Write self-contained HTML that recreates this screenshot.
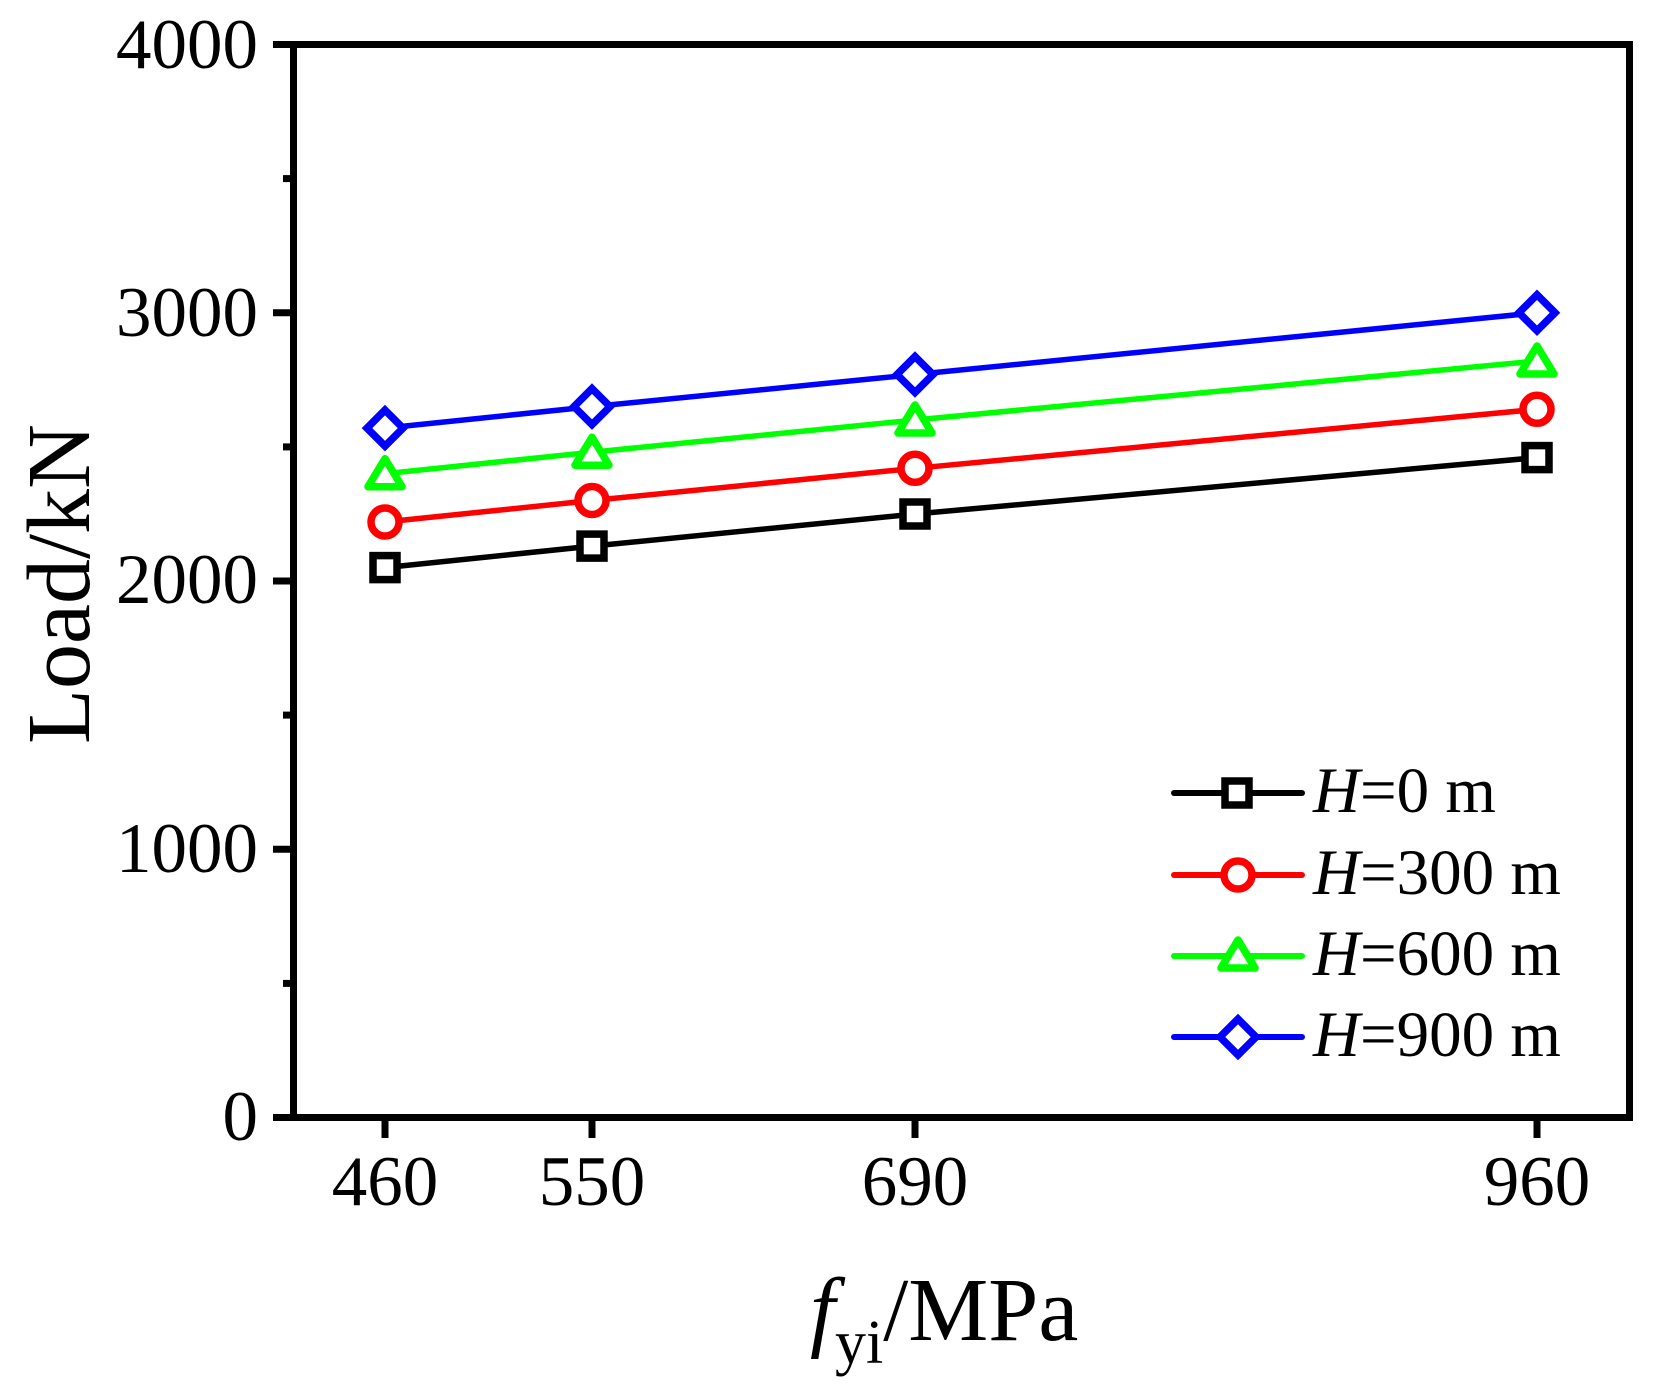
<!DOCTYPE html>
<html><head><meta charset="utf-8"><style>html,body{margin:0;padding:0;background:#fff}svg{display:block}</style></head>
<body>
<svg width="1659" height="1393" viewBox="0 0 1659 1393" xmlns="http://www.w3.org/2000/svg" font-family="'Liberation Serif', serif">
<rect width="1659" height="1393" fill="#fff"/>
<g stroke="#000" stroke-width="7" fill="none">
<rect x="293.5" y="44.5" width="1336" height="1073"/>
<line x1="273" y1="44.5" x2="293" y2="44.5"/>
<line x1="273" y1="312.75" x2="293" y2="312.75"/>
<line x1="273" y1="581" x2="293" y2="581"/>
<line x1="273" y1="849.25" x2="293" y2="849.25"/>
<line x1="273" y1="1117.5" x2="293" y2="1117.5"/>
<line x1="283" y1="178.6" x2="293" y2="178.6"/>
<line x1="283" y1="446.9" x2="293" y2="446.9"/>
<line x1="283" y1="715.1" x2="293" y2="715.1"/>
<line x1="283" y1="983.4" x2="293" y2="983.4"/>
<line x1="385" y1="1118" x2="385" y2="1138"/>
<line x1="592" y1="1118" x2="592" y2="1138"/>
<line x1="915" y1="1118" x2="915" y2="1138"/>
<line x1="1537" y1="1118" x2="1537" y2="1138"/>
</g>
<g font-size="71" text-anchor="end" fill="#000">
<text x="258" y="68">4000</text>
<text x="258" y="336">3000</text>
<text x="258" y="603">2000</text>
<text x="258" y="872">1000</text>
<text x="258" y="1140">0</text>
</g>
<g font-size="71" text-anchor="middle" fill="#000">
<text x="385" y="1205">460</text>
<text x="592" y="1205">550</text>
<text x="915" y="1205">690</text>
<text x="1537" y="1205">960</text>
</g>
<text transform="translate(89,584) rotate(-90)" font-size="90" text-anchor="middle" fill="#000">Load/kN</text>
<text x="810" y="1340" font-size="90" fill="#000"><tspan font-style="italic">f</tspan><tspan font-size="62" dy="23">yi</tspan><tspan dy="-23">/MPa</tspan></text>
<g fill="none" stroke-width="5.5">
<polyline stroke="#000" points="385,567.6 592,546.1 915,514 1537,457.6"/>
<polyline stroke="#f00" points="385,522 592,500.5 915,468.3 1537,409.3"/>
<polyline stroke="#0f0" points="385,473.7 592,452.2 915,420 1537,361"/>
<polyline stroke="#00f" points="385,428.1 592,406.6 915,374.5 1537,312.75"/>
</g>
<g fill="#fff" stroke-width="7.5">
<g stroke="#000">
<rect x="373" y="555.6" width="24" height="24"/><rect x="580" y="534.1" width="24" height="24"/><rect x="903" y="502" width="24" height="24"/><rect x="1525" y="445.6" width="24" height="24"/>
</g>
<g stroke="#f00">
<circle cx="385" cy="522" r="14"/><circle cx="592" cy="500.5" r="14"/><circle cx="915" cy="468.3" r="14"/><circle cx="1537" cy="409.3" r="14"/>
</g>
<g stroke="#0f0" stroke-linejoin="round">
<polygon points="385,458.7 402,486.7 368,486.7"/><polygon points="592,437.2 609,465.2 575,465.2"/><polygon points="915,405 932,433 898,433"/><polygon points="1537,346 1554,374 1520,374"/>
</g>
<g stroke="#00f">
<polygon points="385,410.1 403,428.1 385,446.1 367,428.1"/><polygon points="592,388.6 610,406.6 592,424.6 574,406.6"/><polygon points="915,356.5 933,374.5 915,392.5 897,374.5"/><polygon points="1537,294.75 1555,312.75 1537,330.75 1519,312.75"/>
</g>
</g>
<g stroke-width="6" stroke-linecap="round">
<line x1="1174" y1="793" x2="1302" y2="793" stroke="#000"/>
<line x1="1174" y1="875" x2="1302" y2="875" stroke="#f00"/>
<line x1="1174" y1="956" x2="1302" y2="956" stroke="#0f0"/>
<line x1="1174" y1="1037" x2="1302" y2="1037" stroke="#00f"/>
</g>
<g fill="#fff" stroke-width="7.5">
<rect x="1225" y="781" width="24" height="24" stroke="#000"/>
<circle cx="1238" cy="875" r="14" stroke="#f00"/>
<polygon points="1238,940 1255,968 1221,968" stroke="#0f0" stroke-linejoin="round"/>
<polygon points="1238,1019 1256,1037 1238,1055 1220,1037" stroke="#00f"/>
</g>
<g font-size="65" fill="#000">
<text x="1313" y="812"><tspan font-style="italic">H</tspan>=0 m</text>
<text x="1313" y="894"><tspan font-style="italic">H</tspan>=300 m</text>
<text x="1313" y="975"><tspan font-style="italic">H</tspan>=600 m</text>
<text x="1313" y="1056"><tspan font-style="italic">H</tspan>=900 m</text>
</g>
</svg>
</body></html>
